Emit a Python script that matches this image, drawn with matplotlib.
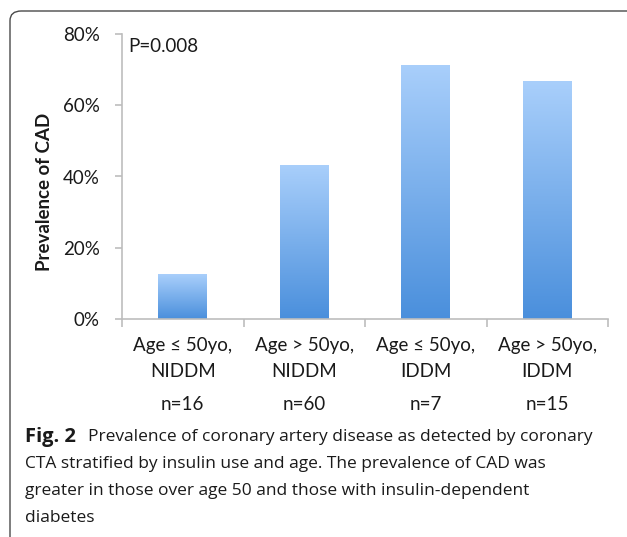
import matplotlib
matplotlib.use("Agg")
import matplotlib.pyplot as plt
import numpy as np
from matplotlib.patches import FancyBboxPatch
from matplotlib.colors import LinearSegmentedColormap

categories = ["Age \u2264 50yo,\nNIDDM", "Age > 50yo,\nNIDDM", "Age \u2264 50yo,\nIDDM", "Age > 50yo,\nIDDM"]
prevalence = [0.125, 0.433, 0.714, 0.667]
n_labels = ["n=16", "n=60", "n=7", "n=15"]
yticks = [0, 0.2, 0.4, 0.6, 0.8]
ytick_labels = ["0%", "20%", "40%", "60%", "80%"]
p_text = "P=0.008"
ylabel = "Prevalence of CAD"

W, H = 627, 537
fig = plt.figure(figsize=(W / 100, H / 100), dpi=100)

# frame
frame = FancyBboxPatch((10 / W, -0.2), 1.2, (H - 11) / H + 0.2,
                       boxstyle="round,pad=0,rounding_size=0.018",
                       transform=fig.transFigure, fill=False,
                       edgecolor="#4a4a4a", linewidth=1.0, clip_on=False)
fig.patches.append(frame)

ax = fig.add_axes([122 / W, 1 - 319 / H, (608 - 122) / W, (319 - 34) / H])
ax.set_xlim(-0.5, 3.5)
ax.set_ylim(0, 0.8)

cmap = LinearSegmentedColormap.from_list("g", ["#4a8fdc", "#a9cffb"])
x = np.arange(len(categories))
bars = ax.bar(x, prevalence, width=0.40, color="none", edgecolor="none")
grad = np.linspace(0, 1, 256).reshape(-1, 1)
for b in bars:
    x0, y0, w, h = b.get_x(), b.get_y(), b.get_width(), b.get_height()
    im = ax.imshow(grad, cmap=cmap, origin="lower", aspect="auto",
                   extent=[x0, x0 + w, y0, y0 + h], zorder=2)
    im.set_clip_path(b)
ax.set_xlim(-0.5, 3.5)
ax.set_ylim(0, 0.8)

for s in ["top", "right"]:
    ax.spines[s].set_visible(False)
for s in ["left", "bottom"]:
    ax.spines[s].set_color("#bdbdbd")
    ax.spines[s].set_linewidth(1.2)

FS = 13.5
ax.set_yticks(yticks)
ax.set_yticklabels(ytick_labels, fontfamily="Lato", fontsize=FS, color="#1a1a1a")
ax.tick_params(axis="y", length=5, color="#bdbdbd", width=1.2, pad=11)

ax.set_xticks(x)
ax.set_xticklabels(categories, fontfamily="Lato", fontsize=FS, color="#1a1a1a",
                   linespacing=1.65)
ax.tick_params(axis="x", length=0, pad=13)
ax.set_xticks([-0.5, 0.5, 1.5, 2.5, 3.5], minor=True)
ax.tick_params(axis="x", which="minor", length=6, color="#bdbdbd", width=1.2)

ax.set_ylabel(ylabel, fontfamily="Lato", fontweight="bold", fontsize=FS,
              color="#1a1a1a")
ax.yaxis.set_label_coords(-0.142, 0.446)

ax.text(0.012, 0.985, p_text, transform=ax.transAxes, fontfamily="Lato",
        fontsize=FS, color="#1a1a1a", va="top", ha="left")

for xi, nl in zip(x, n_labels):
    ax.text(xi, -(405 - 319) / 285, nl, transform=ax.get_xaxis_transform(),
            fontfamily="Lato", fontsize=FS, color="#1a1a1a", ha="center", va="center")

cap_x = 25 / W
CFS = 12.5
fig.text(cap_x, 1 - 437 / H, "Fig. 2", fontfamily="Open Sans", fontweight="bold",
         fontsize=14.5, va="center", ha="left", color="#1a1a1a")
fig.text(88 / W, 1 - 437 / H,
         "Prevalence of coronary artery disease as detected by coronary",
         fontfamily="Open Sans", fontsize=CFS, va="center", ha="left", color="#1a1a1a")
cap_lines = ["CTA stratified by insulin use and age. The prevalence of CAD was",
             "greater in those over age 50 and those with insulin-dependent",
             "diabetes"]
for i, line in enumerate(cap_lines):
    fig.text(cap_x, 1 - (464 + 27 * i) / H, line, fontfamily="Open Sans",
             fontsize=CFS, va="center", ha="left", color="#1a1a1a")

fig.savefig("out.png", dpi=100)
